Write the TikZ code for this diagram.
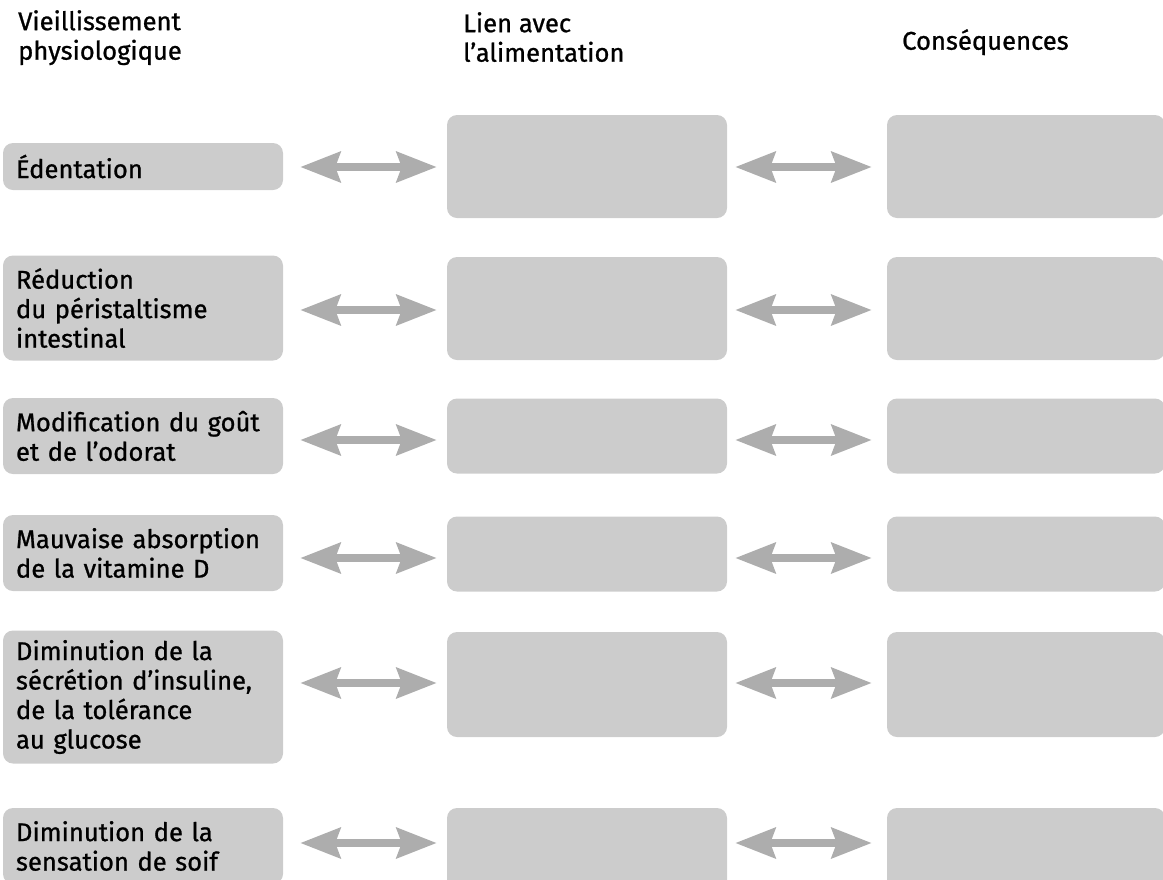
\documentclass[tikz,border=0pt]{standalone}
\usepackage{fontspec}
\setmainfont{Fira Sans}[FakeBold=0.9]
\usetikzlibrary{arrows.meta}
\definecolor{boxgray}{gray}{0.80}
\definecolor{arrowgray}{gray}{0.68}
\begin{document}
\begin{tikzpicture}[x=1pt,y=-1pt,
  every node/.style={font=\fontsize{25.6}{29.5}\selectfont},
  lbox/.style={fill=boxgray, rounded corners=10pt, minimum width=280pt, text width=254pt, inner xsep=13pt, inner ysep=0pt, align=left},
  ebox/.style={fill=boxgray, rounded corners=10pt, minimum width=#1, inner sep=0pt},
  hdr/.style={anchor=north west, align=left, inner sep=0pt},
  dbl/.style={draw=arrowgray, line width=8pt, {Stealth[length=40pt,width=30pt,inset=5pt]}-{Stealth[length=40pt,width=30pt,inset=5pt]}}
]
\useasboundingbox (0,0) rectangle (1163,879);

% headers
\node[hdr] (h1) at (18,10) {Vieillissement\\physiologique};
\node[hdr] (h2) at (463,12) {Lien avec\\l’alimentation};
\node[hdr] (h3) at (902,29) {Conséquences};

% row 1
\node[lbox, minimum height=47pt] (l1) at (143,166.5) {Édentation};
\node[ebox=280pt, minimum height=103pt] (m1) at (587,166.5) {};
\node[ebox=278pt, minimum height=103pt] (r1) at (1026,166.5) {};
% row 2
\node[lbox, minimum height=105pt] (l2) at (143,308) {Réduction\\du péristaltisme\\intestinal};
\node[ebox=280pt, minimum height=103pt] (m2) at (587,308.5) {};
\node[ebox=278pt, minimum height=103pt] (r2) at (1026,308.5) {};
% row 3
\node[lbox, minimum height=76pt] (l3) at (143,436) {Modification du goût\\et de l’odorat};
\node[ebox=280pt, minimum height=75pt] (m3) at (587,436) {};
\node[ebox=278pt, minimum height=75pt] (r3) at (1026,436) {};
% row 4
\node[lbox, minimum height=76pt] (l4) at (143,553) {Mauvaise absorption\\de la vitamine D};
\node[ebox=280pt, minimum height=75pt] (m4) at (587,554) {};
\node[ebox=278pt, minimum height=75pt] (r4) at (1026,554) {};
% row 5
\node[lbox, minimum height=133pt] (l5) at (143,697) {Diminution de la\\sécrétion d’insuline,\\de la tolérance\\au glucose};
\node[ebox=280pt, minimum height=105pt] (m5) at (587,684.5) {};
\node[ebox=278pt, minimum height=105pt] (r5) at (1026,684.5) {};
% row 6 (cut by bottom edge)
\node[lbox, minimum height=76pt] (l6) at (143,846) {Diminution de la\\sensation de soif};
\node[ebox=280pt, minimum height=84pt] (m6) at (587,850) {};
\node[ebox=278pt, minimum height=84pt] (r6) at (1026,850) {};

% arrows
\foreach \i/\y in {1/167,2/310,3/440,4/558,5/683,6/843}{
  \draw[dbl, shorten <=17pt, shorten >=10pt] (l\i.east |- 0,\y) -- (m\i.west |- 0,\y);
  \draw[dbl, shorten <=8pt, shorten >=15pt] (m\i.east |- 0,\y) -- (r\i.west |- 0,\y);
}
\end{tikzpicture}
\end{document}
